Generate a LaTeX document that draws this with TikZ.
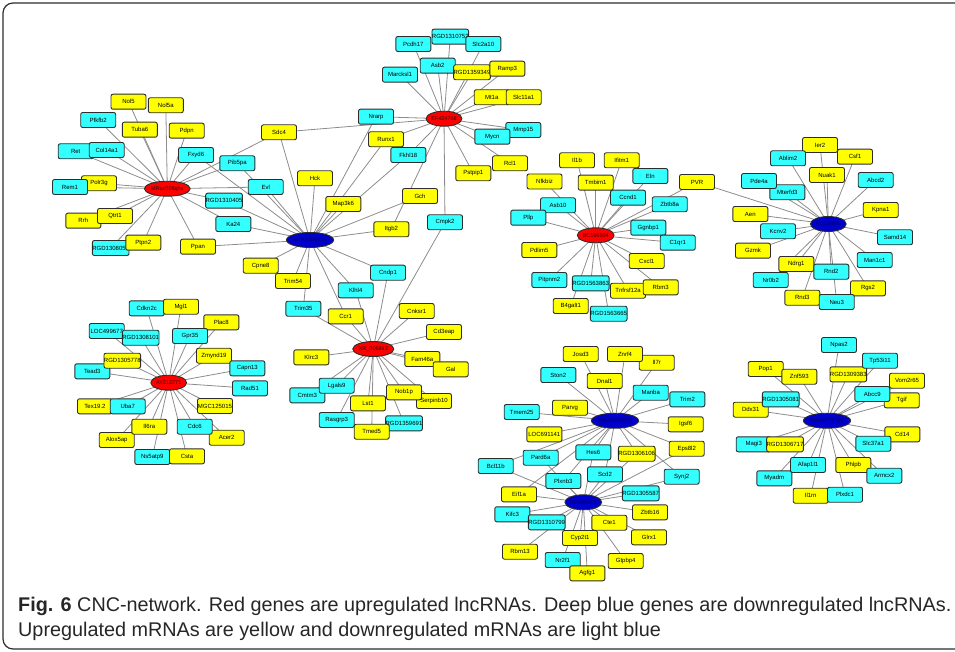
\documentclass[tikz,border=0pt]{standalone}
\usepackage{fontspec}
\setmainfont{Liberation Sans}
\usetikzlibrary{shapes.geometric}

\definecolor{upyellow}{RGB}{255,255,0}
\definecolor{dnblue}{RGB}{51,255,255}
\definecolor{hubred}{RGB}{255,0,0}
\definecolor{hubblue}{RGB}{0,0,204}
\definecolor{rim}{RGB}{45,45,45}
\definecolor{wire}{RGB}{140,140,140}

\pgfdeclarelayer{edges}
\pgfsetlayers{edges,main}

\tikzset{
  genebox/.style={rectangle, rounded corners=2pt, draw=rim, line width=0.9pt,
    minimum width=35pt, minimum height=15pt, inner sep=0pt,
    font=\fontsize{6}{7}\selectfont},
  upbox/.style={genebox, fill=upyellow},
  dnbox/.style={genebox, fill=dnblue},
  hubnode/.style={ellipse, draw=rim, line width=0.9pt, minimum width=35pt,
    minimum height=15pt, inner sep=0pt, font=\fontsize{5.5}{6}\selectfont},
  redhub/.style={hubnode, fill=hubred, text=black!75!red},
  bluehub/.style={hubnode, fill=hubblue, text=black!60!blue},
  link/.style={draw=wire, line width=0.8pt},
  figframe/.style={draw=rim, line width=1.2pt, rounded corners=10pt},
  captext/.style={anchor=base west, inner sep=0pt, font=\fontsize{19.8}{24}\selectfont, text=black!85}
}

\begin{document}
\begin{tikzpicture}[x=1pt,y=-1pt]
\useasboundingbox (0,0) rectangle (955,652);
\draw[figframe] (3,3) rectangle (990,649);

% cluster MRuc008qhx
\node[upbox] (nol5) at (128.5,101.7) {Nol5};
\node[upbox] (nol5a) at (165.8,105.3) {Nol5a};
\node[dnbox] (pfkfb2) at (98.2,120) {Pfkfb2};
\node[upbox] (tuba6) at (139.8,129.7) {Tuba6};
\node[upbox] (pdpn) at (186.7,130.7) {Pdpn};
\node[upbox] (sdc4) at (279,132.3) {Sdc4};
\node[dnbox] (ret) at (75.7,151.3) {Ret};
\node[dnbox] (col14a1) at (106.7,150) {Col14a1};
\node[dnbox] (fxyd6) at (196,155) {Fxyd6};
\node[dnbox] (pib5pa) at (237.3,163.3) {Pib5pa};
\node[upbox] (polr3g) at (99,183.3) {Polr3g};
\node[dnbox] (rem1) at (70,187) {Rem1};
\node[dnbox] (evl) at (265.7,187) {Evl};
\node[dnbox] (rgd1310405) at (224,200.7) {RGD1310405};
\node[upbox] (rrh) at (83.3,220.7) {Rrh};
\node[upbox] (qtrt1) at (115,216) {Qtrt1};
\node[dnbox] (ka24) at (233.3,224) {Ka24};
\node[dnbox] (rgd1308059) at (110.7,248) {RGD1308059};
\node[upbox] (ptpn2) at (143.3,242.7) {Ptpn2};
\node[upbox] (ppan) at (198,246.7) {Ppan};
\node[redhub] (mruc) at (167.3,188.7) {MRuc008qhx};

% cluster EF424768
\node[dnbox] (pcdh17) at (413.3,44) {Pcdh17};
\node[dnbox] (rgd1310752) at (450.3,36.7) {RGD1310752};
\node[dnbox] (slc2a10) at (483.3,44) {Slc2a10};
\node[dnbox] (asb2) at (437.7,65.7) {Asb2};
\node[dnbox] (marcksl1) at (400,74.7) {Marcksl1};
\node[upbox] (rgd1359349) at (472,72.3) {RGD1359349};
\node[upbox] (ramp3) at (507.3,68.7) {Ramp3};
\node[upbox] (mt1a) at (491.7,97.3) {Mt1a};
\node[upbox] (slc11a1) at (523.7,97.3) {Slc11a1};
\node[dnbox] (nrarp) at (376,116.7) {Nrarp};
\node[dnbox] (mmp15) at (523.3,130) {Mmp15};
\node[dnbox] (mycn) at (492.3,136.7) {Mycn};
\node[upbox] (runx1) at (386,139.3) {Runx1};
\node[dnbox] (fkhl18) at (408.3,155) {Fkhl18};
\node[upbox] (rcl1) at (510,163.3) {Rcl1};
\node[upbox] (pstpip1) at (473.3,173.3) {Pstpip1};
\node[upbox] (hck) at (315,178.3) {Hck};
\node[upbox] (gch) at (420,196) {Gch};
\node[upbox] (map3k6) at (343.3,204) {Map3k6};
\node[dnbox] (cmpk2) at (445,222.3) {Cmpk2};
\node[upbox] (itgb2) at (391.3,229.3) {Itgb2};
\node[redhub] (ef) at (444,118.7) {EF424768};

% cluster BRAK056853 and XR_006843
\node[upbox] (cpne8) at (260.7,265.7) {Cpne8};
\node[upbox] (trim54) at (293,281) {Trim54};
\node[dnbox] (cndp1) at (388,272.7) {Cndp1};
\node[dnbox] (klhl4) at (355.7,290.3) {Klhl4};
\node[dnbox] (trim35) at (303.3,308.7) {Trim35};
\node[upbox] (ccr1) at (345.7,316.3) {Ccr1};
\node[upbox] (cnksr1) at (416.7,311) {Cnksr1};
\node[upbox] (cd3eap) at (444,332) {Cd3eap};
\node[upbox] (klrc3) at (311.3,357.3) {Klrc3};
\node[upbox] (fam46a) at (422.3,359) {Fam46a};
\node[upbox] (gal) at (450.7,369.3) {Gal};
\node[dnbox] (cmtm3) at (307.3,395.3) {Cmtm3};
\node[dnbox] (lgals9) at (336.7,385.7) {Lgals9};
\node[upbox] (serpinb10) at (434,401) {Serpinb10};
\node[upbox] (nob1p) at (404,392.3) {Nob1p};
\node[upbox] (lst1) at (368,403.3) {Lst1};
\node[dnbox] (rasgrp3) at (336.7,420) {Rasgrp3};
\node[dnbox] (rgd1359691) at (404,423.3) {RGD1359691};
\node[upbox] (tmed5) at (371.7,431.7) {Tmed5};
\node[bluehub] (braka) at (310,240) {BRAK056853};
\node[redhub] (xr) at (373.3,349) {XR\_006843};

% cluster BC166504
\node[upbox] (il1b) at (577,160.3) {Il1b};
\node[upbox] (ifitm1) at (621.7,160.3) {Ifitm1};
\node[upbox] (nfkbiz) at (544.5,181.5) {Nfkbiz};
\node[upbox] (tmbim1) at (595.7,182.7) {Tmbim1};
\node[dnbox] (eln) at (650.3,176) {Eln};
\node[upbox] (pvr) at (697,182) {PVR};
\node[dnbox] (ccnd1) at (628,197.7) {Ccnd1};
\node[dnbox] (asb10) at (558,205.3) {Asb10};
\node[dnbox] (zbtb8a) at (669.7,204.3) {Zbtb8a};
\node[dnbox] (pllp) at (528.3,217.7) {Pllp};
\node[dnbox] (ggnbp1) at (648.3,227.7) {Ggnbp1};
\node[dnbox] (c1qr1) at (677.7,242.7) {C1qr1};
\node[upbox] (pdlim5) at (539.3,250) {Pdlim5};
\node[upbox] (cxcl1) at (646.7,261) {Cxcl1};
\node[dnbox] (pitpnm2) at (549.3,280) {Pitpnm2};
\node[upbox] (tnfrsf12a) at (628,290.7) {Tnfrsf12a};
\node[upbox] (rbm3) at (660.7,287.3) {Rbm3};
\node[upbox] (b4galt1) at (570.7,306) {B4galt1};
\node[dnbox] (rgd1563863) at (590.7,283.3) {RGD1563863};
\node[dnbox] (rgd1563665) at (608.7,313.7) {RGD1563665};
\node[redhub] (bca) at (595.7,235.3) {BC166504};

% cluster AY539885
\node[upbox] (ier2) at (820,145) {Ier2};
\node[dnbox] (ablim2) at (788,158.3) {Ablim2};
\node[upbox] (csf1) at (855,156.7) {Csf1};
\node[upbox] (nuak1) at (827,175) {Nuak1};
\node[dnbox] (mterfd3) at (787.3,192.3) {Mterfd3};
\node[dnbox] (pde4a) at (759,181) {Pde4a};
\node[dnbox] (abcd2) at (875.7,180) {Abcd2};
\node[upbox] (aen) at (750.3,214) {Aen};
\node[upbox] (kpna1) at (880.7,210) {Kpna1};
\node[dnbox] (kcnv2) at (778,231.3) {Kcnv2};
\node[dnbox] (samd14) at (895,237.3) {Samd14};
\node[upbox] (gzmk) at (753,250.7) {Gzmk};
\node[dnbox] (man1c1) at (874.7,260) {Man1c1};
\node[dnbox] (nr0b2) at (770.7,280) {Nr0b2};
\node[upbox] (ndrg1) at (796.3,264) {Ndrg1};
\node[dnbox] (rnd2) at (831.3,271.7) {Rnd2};
\node[upbox] (rgs2) at (868,288.3) {Rgs2};
\node[upbox] (rnd3) at (802.3,297.7) {Rnd3};
\node[dnbox] (neu3) at (836.7,302) {Neu3};
\node[bluehub] (ayb) at (828.3,224) {AY539885};

% cluster AY212271
\node[dnbox] (cdkn2c) at (146.7,308.3) {Cdkn2c};
\node[upbox] (mgl1) at (181,306.7) {Mgl1};
\node[upbox] (plac8) at (221.3,322.3) {Plac8};
\node[dnbox] (loc499677) at (106.7,331) {LOC499677};
\node[dnbox] (rgd1308101) at (140.7,337.7) {RGD1308101};
\node[dnbox] (gpr35) at (190,336) {Gpr35};
\node[dnbox] (tead3) at (92.3,371.3) {Tead3};
\node[upbox] (rgd1305778) at (122.3,360.7) {RGD1305778};
\node[upbox] (zmynd19) at (214,355.7) {Zmynd19};
\node[dnbox] (capn13) at (247.3,368.3) {Capn13};
\node[dnbox] (rad51) at (250,388.3) {Rad51};
\node[upbox] (tex192) at (95,406.3) {Tex19.2};
\node[dnbox] (uba7) at (127.7,406.3) {Uba7};
\node[upbox] (mgc125015) at (215,406) {MGC125015};
\node[upbox] (alox5ap) at (116.7,440) {Alox5ap};
\node[upbox] (il6ra) at (149.3,426.7) {Il6ra};
\node[upbox] (acer2) at (226.7,437.7) {Acer2};
\node[dnbox] (cdc6) at (194.7,426.7) {Cdc6};
\node[dnbox] (ns5atp9) at (152.3,457) {Ns5atp9};
\node[upbox] (csta) at (187,456.3) {Csta};
\node[redhub] (aya) at (168.7,382.7) {AY212271};

% cluster BRAK042820 and BC089979
\node[upbox] (josd3) at (580.7,354) {Josd3};
\node[upbox] (il7r) at (656.7,362.7) {Il7r};
\node[upbox] (znrf4) at (625,354) {Znrf4};
\node[dnbox] (ston2) at (558.3,375) {Ston2};
\node[upbox] (dnal1) at (604.7,381) {Dnal1};
\node[dnbox] (manba) at (650.7,392.7) {Manba};
\node[dnbox] (trim2) at (687.3,399.3) {Trim2};
\node[upbox] (parvg) at (570,407.7) {Parvg};
\node[dnbox] (tmem25) at (521.7,412) {Tmem25};
\node[upbox] (igsf6) at (685.7,424.3) {Igsf6};
\node[upbox] (loc691141) at (544.3,434.3) {LOC691141};
\node[upbox] (eps8l2) at (686.7,448.7) {Eps8l2};
\node[upbox] (rgd1306106) at (636.7,453.7) {RGD1306106};
\node[dnbox] (hes6) at (593.3,452.3) {Hes6};
\node[dnbox] (pard6a) at (540.7,457.7) {Pard6a};
\node[dnbox] (bcl11b) at (495.7,466) {Bcl11b};
\node[dnbox] (scd2) at (605,474.3) {Scd2};
\node[dnbox] (synj2) at (681.7,476.7) {Synj2};
\node[dnbox] (plxnb3) at (563.3,481) {Plxnb3};
\node[dnbox] (rgd1305587) at (640.7,493.3) {RGD1305587};
\node[upbox] (eif1a) at (519,494.3) {Eif1a};
\node[dnbox] (kifc3) at (512.3,514.3) {Kifc3};
\node[upbox] (zbtb16) at (650,512.3) {Zbtb16};
\node[dnbox] (rgd1310799) at (546.7,522.3) {RGD1310799};
\node[upbox] (cte1) at (609.3,522.7) {Cte1};
\node[upbox] (glrx1) at (649,537.3) {Glrx1};
\node[upbox] (rbm13) at (520,551.7) {Rbm13};
\node[dnbox] (nr2f1) at (562.7,560) {Nr2f1};
\node[upbox] (cyp2t1) at (580,538) {Cyp2t1};
\node[upbox] (gtpbp4) at (625.7,561) {Gtpbp4};
\node[upbox] (agfg1) at (587.3,573.3) {Agfg1};
\node[bluehub] (brakb) at (615,420.7) {BRAK042820};
\node[bluehub] (bcb) at (583.3,502.3) {BC089979};

% cluster BRAK078294
\node[dnbox] (npas2) at (839,345) {Npas2};
\node[upbox] (rgd1309383) at (848.3,374.3) {RGD1309383};
\node[dnbox] (tp53i11) at (880,360.7) {Tp53i11};
\node[upbox] (pop1) at (765.7,369) {Pop1};
\node[upbox] (znf593) at (799.3,376.7) {Znf593};
\node[upbox] (vom2r65) at (907,380.7) {Vom2r65};
\node[upbox] (tgif) at (901.7,400.3) {Tgif};
\node[dnbox] (abcc9) at (872.3,394) {Abcc9};
\node[upbox] (ddx31) at (750.7,409.7) {Ddx31};
\node[dnbox] (rgd1305081) at (780.7,399.3) {RGD1305081};
\node[upbox] (cd14) at (902.3,434.3) {Cd14};
\node[dnbox] (slc37a1) at (873.3,443.7) {Slc37a1};
\node[dnbox] (magi3) at (753.7,444.3) {Magi3};
\node[upbox] (rgd1306717) at (785,444.3) {RGD1306717};
\node[dnbox] (myadm) at (774.3,478.3) {Myadm};
\node[dnbox] (afap1l1) at (808,465) {Afap1l1};
\node[upbox] (phlpb) at (853.3,465) {Phlpb};
\node[dnbox] (armcx2) at (884.3,475.7) {Armcx2};
\node[upbox] (il1rn) at (810.7,495.7) {Il1rn};
\node[dnbox] (plxdc1) at (845,494.7) {Plxdc1};
\node[bluehub] (brakc) at (827,420.7) {BRAK078294};

% connections
\begin{pgfonlayer}{edges}
\foreach \g in {nol5,nol5a,pfkfb2,tuba6,pdpn,sdc4,ret,col14a1,fxyd6,pib5pa,polr3g,rem1,evl,rgd1310405,rrh,qtrt1,ka24,rgd1308059,ptpn2,ppan}
  \draw[link] (mruc.center) -- (\g.center);
\foreach \g in {sdc4,fxyd6,pib5pa,evl,rgd1310405,ka24,ppan,hck,nrarp,runx1,fkhl18,map3k6,gch,itgb2,cpne8,trim54,trim35,ccr1,klhl4,cndp1}
  \draw[link] (braka.center) -- (\g.center);
\foreach \g in {pcdh17,rgd1310752,slc2a10,asb2,marcksl1,rgd1359349,ramp3,mt1a,slc11a1,nrarp,mmp15,mycn,runx1,fkhl18,rcl1,pstpip1,itgb2,cmpk2,sdc4}
  \draw[link] (ef.center) -- (\g.center);
\foreach \g in {cmpk2,cndp1,klhl4,trim35,ccr1,cnksr1,cd3eap,klrc3,fam46a,gal,lgals9,cmtm3,nob1p,serpinb10,lst1,rasgrp3,rgd1359691,tmed5}
  \draw[link] (xr.center) -- (\g.center);
\foreach \g in {il1b,ifitm1,nfkbiz,tmbim1,eln,pvr,ccnd1,asb10,zbtb8a,pllp,ggnbp1,c1qr1,pdlim5,cxcl1,pitpnm2,rgd1563863,tnfrsf12a,rbm3,b4galt1,rgd1563665}
  \draw[link] (bca.center) -- (\g.center);
\foreach \g in {pvr,ier2,ablim2,csf1,nuak1,pde4a,abcd2,mterfd3,aen,kpna1,kcnv2,samd14,gzmk,man1c1,ndrg1,rnd2,nr0b2,rgs2,rnd3,neu3}
  \draw[link] (ayb.center) -- (\g.center);
\foreach \g in {cdkn2c,mgl1,plac8,loc499677,rgd1308101,gpr35,rgd1305778,zmynd19,tead3,capn13,rad51,tex192,uba7,mgc125015,il6ra,cdc6,alox5ap,acer2,ns5atp9,csta}
  \draw[link] (aya.center) -- (\g.center);
\foreach \g in {josd3,znrf4,il7r,ston2,dnal1,manba,trim2,parvg,tmem25,igsf6,loc691141,eps8l2,rgd1306106,hes6,pard6a,bcl11b,scd2,synj2,plxnb3,eif1a}
  \draw[link] (brakb.center) -- (\g.center);
\foreach \g in {pard6a,plxnb3,hes6,scd2,rgd1306106,synj2,eps8l2,bcl11b,eif1a,kifc3,rgd1310799,rbm13,nr2f1,agfg1,cyp2t1,cte1,gtpbp4,glrx1,zbtb16,rgd1305587}
  \draw[link] (bcb.center) -- (\g.center);
\foreach \g in {npas2,tp53i11,pop1,znf593,rgd1309383,vom2r65,abcc9,rgd1305081,tgif,ddx31,cd14,magi3,rgd1306717,slc37a1,afap1l1,phlpb,myadm,armcx2,il1rn,plxdc1}
  \draw[link] (brakc.center) -- (\g.center);
\end{pgfonlayer}

% caption
\node[captext] (capline1) at (18,611) {\textbf{Fig. 6} CNC-network. Red genes are upregulated lncRNAs. Deep blue genes are downregulated lncRNAs.};
\node[captext] (capline2) at (18,636) {Upregulated mRNAs are yellow and downregulated mRNAs are light blue};
\end{tikzpicture}
\end{document}
